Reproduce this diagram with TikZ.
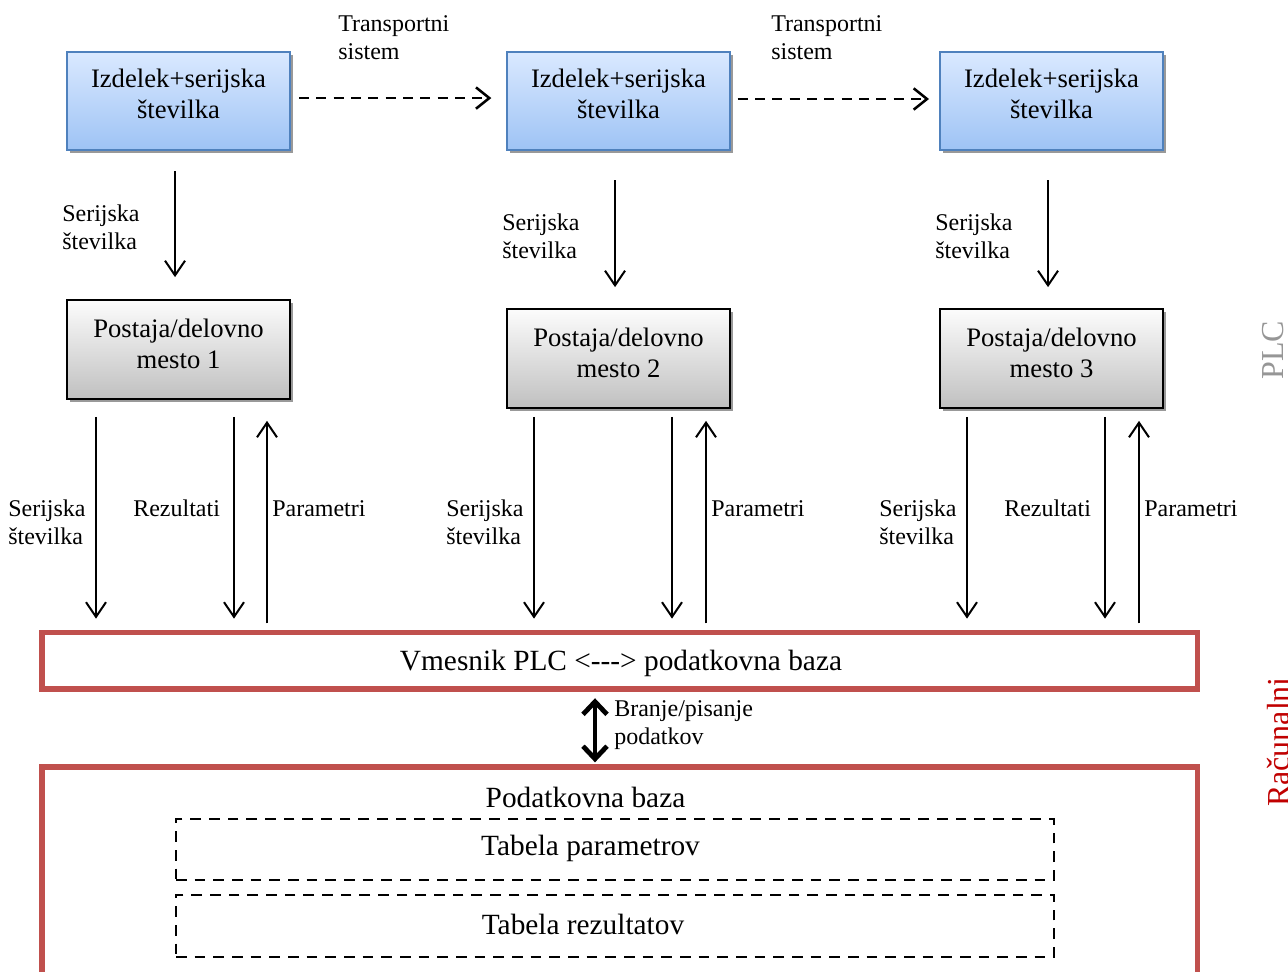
\documentclass[tikz,border=0pt]{standalone}
\usepackage{fontspec}
\setmainfont{Liberation Serif}
\usetikzlibrary{arrows.meta,shadows,calc}
\definecolor{bluetop}{RGB}{218,233,255}
\definecolor{bluebot}{RGB}{158,195,245}
\definecolor{blueline}{RGB}{79,129,189}
\definecolor{graytop}{RGB}{252,252,252}
\definecolor{graybot}{RGB}{192,192,192}
\definecolor{redline}{RGB}{192,80,77}
\definecolor{darkred}{RGB}{192,0,0}
\definecolor{plcgray}{RGB}{150,150,150}
\newcommand{\bigf}{\fontsize{20}{23.25}\selectfont}
\newcommand{\midf}{\fontsize{22}{25}\selectfont}
\newcommand{\smallf}{\fontsize{18}{21}\selectfont}
\begin{document}
\begin{tikzpicture}[x=0.75pt,y=-0.75pt,
  bluebox/.style={draw=blueline, line width=1.5pt, top color=bluetop, bottom color=bluebot,
    minimum width=167.25pt, minimum height=73.5pt, inner sep=0pt,
    drop shadow={shadow xshift=2.2pt, shadow yshift=-2.2pt, fill=black!40, opacity=1}},
  graybox/.style={draw=black, line width=1.3pt, top color=graytop, bottom color=graybot,
    minimum width=167.25pt, minimum height=74.25pt, inner sep=0pt,
    drop shadow={shadow xshift=2.2pt, shadow yshift=-2.2pt, fill=black!40, opacity=1}},
  boxtext/.style={align=center, font=\bigf, inner sep=0pt},
  redbox/.style={draw=redline, line width=3.8pt, inner sep=0pt},
  dbox/.style={draw=black, line width=1.9pt, dash pattern=on 8pt off 6pt, inner sep=0pt},
  lbl/.style={font=\smallf, align=left, anchor=west, inner sep=0pt},
  arr/.style={line width=1.5pt, -{Straight Barb[length=11pt,width=15pt]}},
  darr/.style={line width=1.9pt, dash pattern=on 7.5pt off 5.5pt, -{Straight Barb[length=10pt,width=16pt]}},
  barr/.style={line width=3.6pt, {Straight Barb[length=9.5pt,width=18pt]}-{Straight Barb[length=9.5pt,width=18pt]}}
]
\useasboundingbox (0,0) rectangle (1288,971);

% top product boxes
\node[bluebox] (b1) at (178.5,101) {};
\node[bluebox] (b2) at (618.5,101) {};
\node[bluebox] (b3) at (1051.5,101) {};
\node[boxtext] (b1t) at ($(b1)+(0,-7)$) {Izdelek+serijska\\številka};
\node[boxtext] (b2t) at ($(b2)+(0,-7)$) {Izdelek+serijska\\številka};
\node[boxtext] (b3t) at ($(b3)+(0,-7)$) {Izdelek+serijska\\številka};

% stations
\node[graybox] (g1) at (178.5,349.5) {};
\node[graybox] (g2) at (618.5,358.5) {};
\node[graybox] (g3) at (1051.5,358.5) {};
\node[boxtext] (g1t) at ($(g1)+(0,-6)$) {Postaja/delovno\\mesto 1};
\node[boxtext] (g2t) at ($(g2)+(0,-6)$) {Postaja/delovno\\mesto 2};
\node[boxtext] (g3t) at ($(g3)+(0,-6)$) {Postaja/delovno\\mesto 3};

% interface box
\node[redbox, minimum width=866.6pt, minimum height=42.4pt] (plc) at (619.75,660.75) {};
\node[font=\midf, inner sep=0pt] (plct) at (621,663) {Vmesnik PLC <-{}-{}-> podatkovna baza};

% database box (cut off at bottom)
\draw[redline, line width=3.8pt] (42,1010) |- (1197.5,767) -- (1197.5,1010);
\coordinate (dbtop) at (619.75,767);
\node[font=\midf, inner sep=0pt] (dbt) at (585.5,797) {Podatkovna baza};
\node[dbox, minimum width=658.5pt, minimum height=45.75pt] (tp) at (615,849.5) {};
\node[dbox, minimum width=658.5pt, minimum height=46.5pt] (tr) at (615,926) {};
\node[font=\midf, inner sep=0pt] (tpt) at (590.5,848) {Tabela parametrov};
\node[font=\midf, inner sep=0pt] (trt) at (583,924) {Tabela rezultatov};

% transport arrows
\draw[darr, shorten <=6pt, shorten >=11pt] ([yshift=2.2pt]b1.east) -- ([yshift=2.2pt]b2.west);
\draw[darr, shorten <=5pt, shorten >=7.5pt] ([yshift=1.5pt]b2.east) -- ([yshift=1.5pt]b3.west);
\node[lbl] (t1) at (338,38) {Transportni\\sistem};
\node[lbl] (t2) at (771,38) {Transportni\\sistem};

% serial number arrows top
\draw[arr, shorten <=15pt, shorten >=16.5pt] ([xshift=-2.6pt]b1.south) -- ([xshift=-2.6pt]g1.north);
\draw[arr, shorten <=21.75pt, shorten >=15.75pt] ([xshift=-2.6pt]b2.south) -- ([xshift=-2.6pt]g2.north);
\draw[arr, shorten <=21.75pt, shorten >=15.75pt] ([xshift=-2.6pt]b3.south) -- ([xshift=-2.6pt]g3.north);
\node[lbl] (s1) at (62,227) {Serijska\\številka};
\node[lbl] (s2) at (502,236) {Serijska\\številka};
\node[lbl] (s3) at (935,236) {Serijska\\številka};

% station <-> interface arrows
\coordinate (c1a) at ($(g1.south)+(-82.5,0)$);
\coordinate (c1b) at ($(g1.south)+(55.5,0)$);
\coordinate (c1c) at ($(g1.south)+(88.5,0)$);
\coordinate (c2a) at ($(g2.south)+(-84.5,0)$);
\coordinate (c2b) at ($(g2.south)+(53.5,0)$);
\coordinate (c2c) at ($(g2.south)+(87.5,0)$);
\coordinate (c3a) at ($(g3.south)+(-84.5,0)$);
\coordinate (c3b) at ($(g3.south)+(53.5,0)$);
\coordinate (c3c) at ($(g3.south)+(87.5,0)$);

\draw[arr, shorten <=12.75pt, shorten >=8.5pt] (c1a) -- (c1a |- plc.north);
\draw[arr, shorten <=12.75pt, shorten >=8.5pt] (c1b) -- (c1b |- plc.north);
\draw[arr, shorten <=5pt, shorten >=15.75pt] (c1c |- plc.north) -- (c1c);

\draw[arr, shorten <=6pt, shorten >=8.5pt] (c2a) -- (c2a |- plc.north);
\draw[arr, shorten <=6pt, shorten >=8.5pt] (c2b) -- (c2b |- plc.north);
\draw[arr, shorten <=5pt, shorten >=9pt] (c2c |- plc.north) -- (c2c);

\draw[arr, shorten <=6pt, shorten >=8.5pt] (c3a) -- (c3a |- plc.north);
\draw[arr, shorten <=6pt, shorten >=8.5pt] (c3b) -- (c3b |- plc.north);
\draw[arr, shorten <=5pt, shorten >=9pt] (c3c |- plc.north) -- (c3c);

\node[lbl] (sb1) at (8,522) {Serijska\\številka};
\node[lbl] (r1) at (133,508) {Rezultati};
\node[lbl] (p1) at (272,509) {Parametri};
\node[lbl] (sb2) at (446,522) {Serijska\\številka};
\node[lbl] (p2) at (711,509) {Parametri};
\node[lbl] (sb3) at (879,522) {Serijska\\številka};
\node[lbl] (r3) at (1004,508) {Rezultati};
\node[lbl] (p3) at (1144,509) {Parametri};

% read/write arrow
\coordinate (rw) at (595,0);
\draw[barr, shorten <=5pt, shorten >=3.5pt] (rw |- plc.south) -- (rw |- dbtop);
\node[lbl] (rwl) at (614,725) {Branje/pisanje\\podatkov};

% side labels
\node[rotate=90, font=\fontsize{24}{28}\selectfont, text=plcgray, inner sep=0pt] (lplc) at (1273,350) {PLC};
\node[rotate=90, font=\fontsize{24}{28}\selectfont, text=darkred, inner sep=0pt, anchor=north] (lrac) at (1267,742) {Računalni};
\end{tikzpicture}
\end{document}
